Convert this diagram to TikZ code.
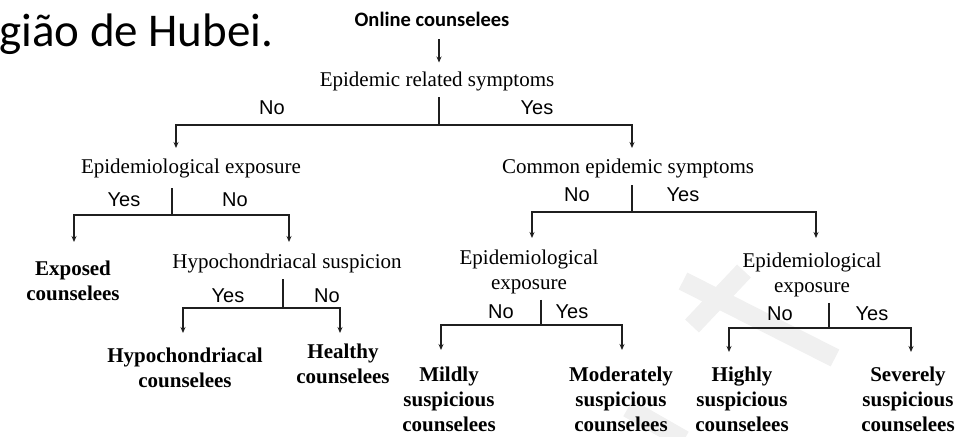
\documentclass[tikz,border=0pt]{standalone}
\usepackage{fontspec}
\setmainfont{Liberation Serif}
\newfontfamily\lsans{Liberation Sans}
\newfontfamily\carlito{Carlito}
\usetikzlibrary{arrows.meta}
\begin{document}
\begin{tikzpicture}[x=1pt,y=-1pt,
  reg/.style={font=\fontsize{21}{25.5}\selectfont, inner sep=0pt, anchor=base},
  reg2/.style={font=\fontsize{21}{25.5}\selectfont, inner sep=0pt, align=center, anchor=north},
  leaf/.style={font=\bfseries\fontsize{21}{25}\selectfont, inner sep=0pt, align=center, anchor=north},
  lbl/.style={font=\lsans\fontsize{20}{23}\selectfont, inner sep=0pt, anchor=base},
  conn/.style={draw=black!88, line width=1.4pt},
  arr/.style={conn, -{Stealth[length=6pt,width=5pt]}},
  wm/.style={draw=black!6, line width=19pt}
]
\useasboundingbox (0,0) rectangle (976,436);
% watermark
\draw[wm] (683,281) -- (835,358);
\draw[wm] (692,326) -- (744,271);
\draw[wm] (628,408) -- (684,440);
% title
\node[font=\carlito\fontsize{47}{56}\selectfont, inner sep=0pt, anchor=base west] (title) at (-1,47) {gião de Hubei.};
% nodes
\node[font=\carlito\bfseries\fontsize{20.5}{24}\selectfont, inner sep=0pt, anchor=base] (oc) at (432,27) {Online counselees};
\node[reg] (ers) at (437,86) {Epidemic related symptoms};
\node[reg] (epi1) at (191,173) {Epidemiological exposure};
\node[reg] (common) at (628,173) {Common epidemic symptoms};
\node[reg] (hyp) at (287,268) {Hypochondriacal suspicion};
\node[reg2] (epi2) at (529,246.15) {\strut Epidemiological\\exposure};
\node[reg2] (epi3) at (812,249.15) {\strut Epidemiological\\exposure};
\node[leaf] (exposed) at (73,257.5) {\strut Exposed\\counselees};
\node[leaf] (hypc) at (185,344.5) {\strut Hypochondriacal\\counselees};
\node[leaf] (healthy) at (343,340.5) {\strut Healthy\\counselees};
\node[leaf] (mild) at (449,363.5) {\strut Mildly\\suspicious\\counselees};
\node[leaf] (moder) at (621,363.5) {\strut Moderately\\suspicious\\counselees};
\node[leaf] (highly) at (742,363.5) {\strut Highly\\suspicious\\counselees};
\node[leaf] (severe) at (908,363.5) {\strut Severely\\suspicious\\counselees};
% branch labels
\node[lbl] (n0) at (272,114) {No};
\node[lbl] (y0) at (537,114) {Yes};
\node[lbl] (y1) at (124,206) {Yes};
\node[lbl] (n1) at (235,206) {No};
\node[lbl] (y2) at (228,302) {Yes};
\node[lbl] (n2) at (327,302) {No};
\node[lbl] (n3) at (577,201) {No};
\node[lbl] (y3) at (683,201) {Yes};
\node[lbl] (n4) at (501,318) {No};
\node[lbl] (y4) at (572,318) {Yes};
\node[lbl] (n5) at (780,320) {No};
\node[lbl] (y5) at (872,320) {Yes};
% junctions and arrow tips
\coordinate (j0) at (439,125); \coordinate (t0a) at (176,148); \coordinate (t0b) at (632,148);
\coordinate (j1) at (172,215); \coordinate (t1a) at (74,242);  \coordinate (t1b) at (289,242);
\coordinate (j2) at (283,308); \coordinate (t2a) at (183,333); \coordinate (t2b) at (340,333);
\coordinate (j3) at (632,212); \coordinate (t3a) at (532,238); \coordinate (t3b) at (816,238);
\coordinate (j4) at (541,325); \coordinate (t4a) at (441,350); \coordinate (t4b) at (622,350);
\coordinate (j5) at (829,328); \coordinate (t5a) at (729,352); \coordinate (t5b) at (911,352);
% connectors
\draw[arr, shorten <=12pt, shorten >=8.7pt] (oc.south -| j0) -- (ers.north -| j0);
\draw[conn, shorten <=6.4pt] (ers.south -| j0) -- (j0);
\draw[arr] (j0) -| (t0a); \draw[arr] (j0) -| (t0b);
\draw[conn, shorten <=10.4pt] (epi1.south -| j1) -- (j1);
\draw[arr] (j1) -| (t1a); \draw[arr] (j1) -| (t1b);
\draw[conn, shorten <=6.4pt] (hyp.south -| j2) -- (j2);
\draw[arr] (j2) -| (t2a); \draw[arr] (j2) -| (t2b);
\draw[conn, shorten <=7.4pt] (common.south -| j3) -- (j3);
\draw[arr] (j3) -| (t3a); \draw[arr] (j3) -| (t3b);
\draw[conn, shorten <=5.4pt] (epi2.south -| j4) -- (j4);
\draw[arr] (j4) -| (t4a); \draw[arr] (j4) -| (t4b);
\draw[conn, shorten <=5.4pt] (epi3.south -| j5) -- (j5);
\draw[arr] (j5) -| (t5a); \draw[arr] (j5) -| (t5b);
\end{tikzpicture}
\end{document}
